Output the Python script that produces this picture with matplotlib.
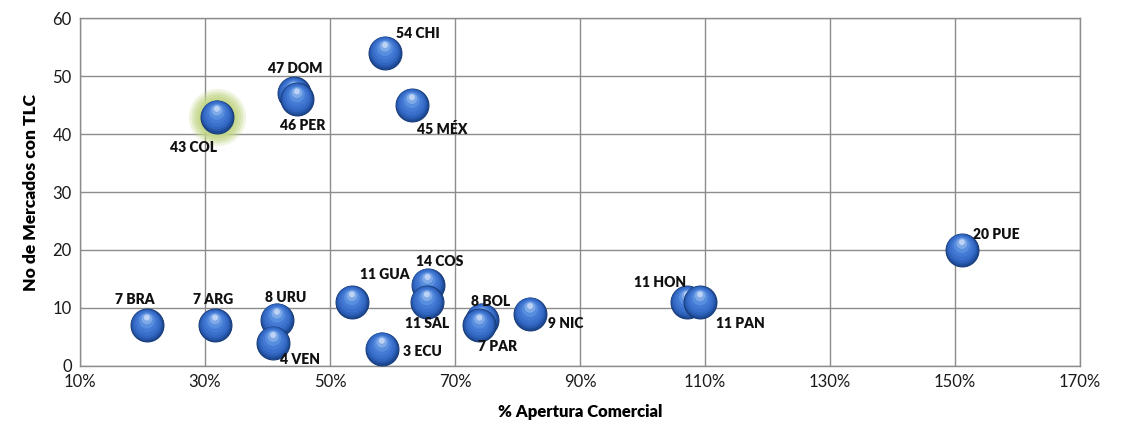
import matplotlib
matplotlib.use("Agg")
import matplotlib.pyplot as plt
from matplotlib.transforms import offset_copy
from matplotlib.ticker import FuncFormatter

plt.rcParams['font.family'] = ['Lato', 'DejaVu Sans']

# apertura comercial (%) vs numero de mercados con TLC
paises = ["BRA", "ARG", "URU", "VEN", "GUA", "COS", "SAL", "ECU", "BOL", "PAR",
          "NIC", "HON", "PAN", "PUE", "CHI", "DOM", "PER", "MÉX", "COL"]
apertura = [20.7, 31.6, 41.5, 40.9, 53.5, 65.6, 65.5, 58.3, 74.3, 73.9,
            82.0, 107.1, 109.2, 151.1, 58.8, 44.2, 44.7, 63.1, 31.9]
mercados = [7, 7, 8, 4, 11, 14, 11, 3, 8, 7, 9, 11, 11, 20, 54, 47, 46, 45, 43]

# label offsets in points
offsets = [(-9, 19), (-1, 19), (6, 16), (19, -12), (24, 20), (9, 17), (0, -15),
           (29, -2), (6, 13), (13, -15), (26, -7), (-19, 14), (29, -15), (25, 11),
           (24, 14), (1, 18), (4, -19), (22, -17), (-17, -22)]

fig = plt.figure(figsize=(11.22, 4.32), dpi=100)
ax = fig.add_axes([0.0713, 0.1528, 0.8913, 0.8055])

ax.set_xlim(10, 170)
ax.set_ylim(0, 60)
ax.set_xticks(range(10, 171, 20))
ax.set_yticks(range(0, 61, 10))
ax.xaxis.set_major_formatter(FuncFormatter(lambda v, p: f"{v:.0f}%"))
ax.grid(True, color="#8c8c8c", linewidth=1.0)
ax.set_axisbelow(True)
for s in ax.spines.values():
    s.set_color("#8c8c8c")
    s.set_linewidth(1.0)
ax.tick_params(length=0, labelsize=12, colors="#1a1a1a", pad=6)

# glow around COL
col = paises.index("COL")
for size, alpha in [(1700, 0.25), (1400, 0.35), (1150, 0.45), (900, 0.6), (700, 0.8)]:
    ax.scatter(apertura[col], mercados[col], s=size, color="#c4d88a",
               alpha=alpha, linewidths=0, zorder=2)

# shaded spheres, drawn point by point so overlaps stack properly
layers = [
    (0, 0, 560, "#1d4a94"),
    (0, 0.5, 490, "#2858ac"),
    (0, 1.0, 410, "#3166c0"),
    (0, 1.6, 320, "#3a70cb"),
    (0, 2.4, 220, "#447ad4"),
    (0, 3.4, 130, "#588ede"),
    (0, 4.6, 60, "#80a9e8"),
    (0, 5.6, 18, "#bdd3f5"),
]
for i, (xv, yv) in enumerate(zip(apertura, mercados)):
    for dx, dy, size, color in layers:
        tr = offset_copy(ax.transData, fig=fig, x=dx, y=dy, units="points")
        edge = "#183c7a" if size == 560 else "none"
        ax.scatter(xv, yv, s=size, color=color, edgecolors=edge, linewidths=0.8,
                   transform=tr, zorder=3 + i * 0.01)

for name, xv, yv, off in zip(paises, apertura, mercados, offsets):
    ax.annotate(f"{yv} {name}", (xv, yv), xytext=off, textcoords="offset points",
                ha="center", va="center", fontsize=10, fontweight="heavy",
                color="#111111", zorder=5)

ax.set_xlabel("% Apertura Comercial", fontsize=12, fontweight="heavy", labelpad=10)
ax.set_ylabel("No de Mercados con TLC", fontsize=12.5, fontweight="heavy", labelpad=10)

fig.savefig("out.png", dpi=100)
